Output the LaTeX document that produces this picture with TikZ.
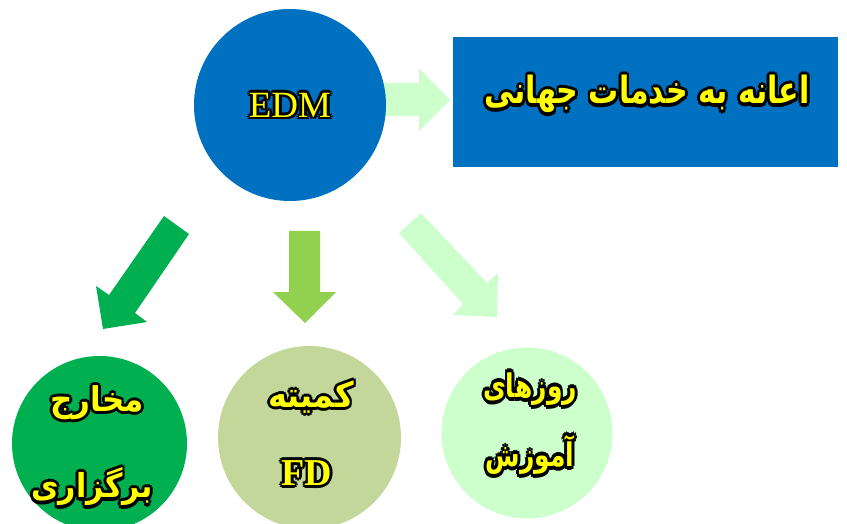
\documentclass[tikz,border=0pt]{standalone}
\usepackage{fontspec}
\setmainfont{Liberation Serif}
\newfontfamily\arabicfont[Script=Arabic]{DejaVu Sans}
\TeXXeTstate=1
\definecolor{edmblue}{HTML}{0070C0}
\definecolor{dgreen}{HTML}{00B050}
\definecolor{mgreen}{HTML}{92D050}
\definecolor{olivegreen}{HTML}{C4D79B}
\definecolor{lgreen}{HTML}{CCFFCC}
\definecolor{ytext}{HTML}{FFFF00}
\newcommand\gsh[3]{\rlap{\kern#1\raise#2\hbox{#3}}}
\newcommand\glow[1]{\leavevmode\rlap{\color{black}%
\gsh{2.8pt}{0pt}{#1}\gsh{-2.8pt}{0pt}{#1}\gsh{0pt}{2.8pt}{#1}\gsh{0pt}{-2.8pt}{#1}%
\gsh{2pt}{2pt}{#1}\gsh{-2pt}{2pt}{#1}\gsh{2pt}{-2pt}{#1}\gsh{-2pt}{-2pt}{#1}%
\gsh{1.4pt}{0pt}{#1}\gsh{-1.4pt}{0pt}{#1}\gsh{0pt}{1.4pt}{#1}\gsh{0pt}{-1.4pt}{#1}%
\gsh{1pt}{1pt}{#1}\gsh{-1pt}{1pt}{#1}\gsh{1pt}{-1pt}{#1}\gsh{-1pt}{-1pt}{#1}}#1}
\newcommand\fa[1]{\hbox{\arabicfont\bfseries\beginR #1\endR}}
\tikzset{
  blob/.style={circle, inner sep=0pt, minimum size=#1},
  lbl/.style={inner sep=0pt, text=ytext, font=\fontsize{28}{32}\selectfont}
}
\begin{document}
\begin{tikzpicture}[x=1pt,y=-1pt]
\useasboundingbox (0,0) rectangle (847,524);
\clip (0,0) rectangle (847,524);
% arrow to the right box
\fill[lgreen] (375,83) -- (419,83) -- (419,68) -- (450,100) -- (419,131) -- (419,116) -- (375,116) -- cycle;
% main circle
\node[blob=192pt, fill=edmblue] (edm) at (290,105) {};
\node[lbl, font=\fontsize{37}{40}\selectfont] (edmt) at (290,105) {\glow{EDM}};
% box
\node[draw=none, fill=edmblue, minimum width=385pt, minimum height=130pt, inner sep=0pt, anchor=north west] (box) at (453,37) {};
\node[lbl, font=\fontsize{30}{34}\selectfont] (boxt) at (647,94) {\scalebox{1}[1.25]{\glow{\fa{اعانه به خدمات جهانی}}}};
% arrows down
\fill[dgreen] (164,216) -- (189,234) -- (135,313) -- (147,322) -- (103,329) -- (96,286) -- (109,295) -- cycle;
\fill[mgreen] (289,231) -- (320,231) -- (320,292) -- (336,292) -- (305,323) -- (273,292) -- (289,292) -- cycle;
\fill[lgreen] (421,213) -- (487,283) -- (498,273) -- (497,317) -- (453,315) -- (463,304) -- (399,233) -- cycle;
% bottom circles
\node[blob=175pt, fill=dgreen] (c1) at (99.5,443.5) {};
\node[blob=183pt, fill=olivegreen] (c2) at (309.5,437.5) {};
\node[blob=171pt, fill=lgreen] (c3) at (527,433) {};
% labels
\node[lbl, font=\fontsize{31}{34}\selectfont] (c1a) at (97,403) {\scalebox{1}[1.1]{\glow{\fa{مخارج}}}};
\node[lbl, font=\fontsize{30}{34}\selectfont] (c1b) at (92,487) {\scalebox{1}[1.1]{\glow{\fa{برگزاری}}}};
\node[lbl, font=\fontsize{32}{34}\selectfont] (c2a) at (311,397) {\scalebox{1}[1.1]{\glow{\fa{کمیته}}}};
\node[lbl, font=\fontsize{38}{40}\selectfont\bfseries] (c2b) at (307,473) {\glow{FD}};
\node[lbl, font=\fontsize{25}{30}\selectfont] (c3a) at (530,389) {\scalebox{1}[1.3]{\glow{\fa{روزهای}}}};
\node[lbl, font=\fontsize{25}{30}\selectfont] (c3b) at (530,455) {\scalebox{1}[1.3]{\glow{\fa{آموزش}}}};
\end{tikzpicture}
\end{document}
